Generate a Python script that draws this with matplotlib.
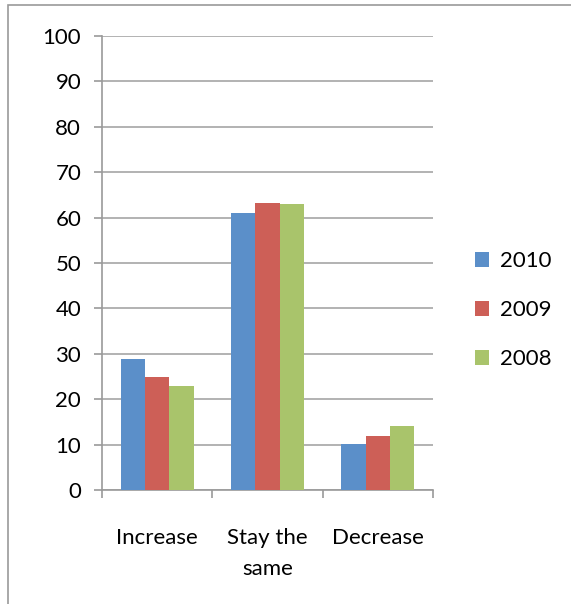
import numpy as np
import matplotlib.pyplot as plt
from matplotlib.patches import Rectangle

categories = ["Increase", "Stay the\nsame", "Decrease"]
series_names = ["2010", "2009", "2008"]
v2010 = [28.8, 61.0, 10.1]
v2009 = [25.0, 63.3, 11.8]
v2008 = [22.8, 63.0, 14.2]
colors = ["#5B8FC9", "#CD5F57", "#A9C46B"]

plt.rcParams['font.family'] = ['Lato', 'DejaVu Sans']

fig = plt.figure(figsize=(5.71, 6.04), dpi=100)
ax = fig.add_axes([102/571, 1 - 490/604, 331/571, 454/604])

# outer chart frame
fig.patches.append(Rectangle((8/571, -0.1), 1.1, 1.1 - 5/604, transform=fig.transFigure,
                             fill=False, edgecolor="#9a9a9a", linewidth=1.2))

x = np.arange(len(categories))
w = 0.22
for i, (vals, name) in enumerate(zip([v2010, v2009, v2008], series_names)):
    ax.bar(x + (i - 1) * w, vals, w, color=colors[i], label=name, zorder=3)

ax.set_xlim(-0.5, 2.5)
ax.set_ylim(0, 100)
ax.set_yticks(range(0, 101, 10))
ax.yaxis.grid(True, color="#a6a6a6", linewidth=1.2, zorder=0)
ax.tick_params(axis="y", direction="out", length=6, color="#9a9a9a", width=1.2,
               labelsize=16, pad=9)

ax.set_xticks([-0.5, 0.5, 1.5, 2.5], minor=False)
ax.set_xticklabels([])
ax.set_xticks(x, minor=True)
ax.set_xticklabels(categories, minor=True, fontsize=16, linespacing=1.7)
ax.tick_params(axis="x", which="major", direction="out", length=6, color="#9a9a9a", width=1.2)
ax.tick_params(axis="x", which="minor", length=0, pad=27)

for s in ["top", "right"]:
    ax.spines[s].set_visible(False)
for s in ["left", "bottom"]:
    ax.spines[s].set_color("#9a9a9a")
    ax.spines[s].set_linewidth(1.2)

ax.legend(loc="center left", bbox_to_anchor=(1.065, 0.396), frameon=False, fontsize=16,
          handlelength=0.65, handleheight=0.65, labelspacing=1.3, handletextpad=0.5)

fig.savefig("out.png", dpi=100)
